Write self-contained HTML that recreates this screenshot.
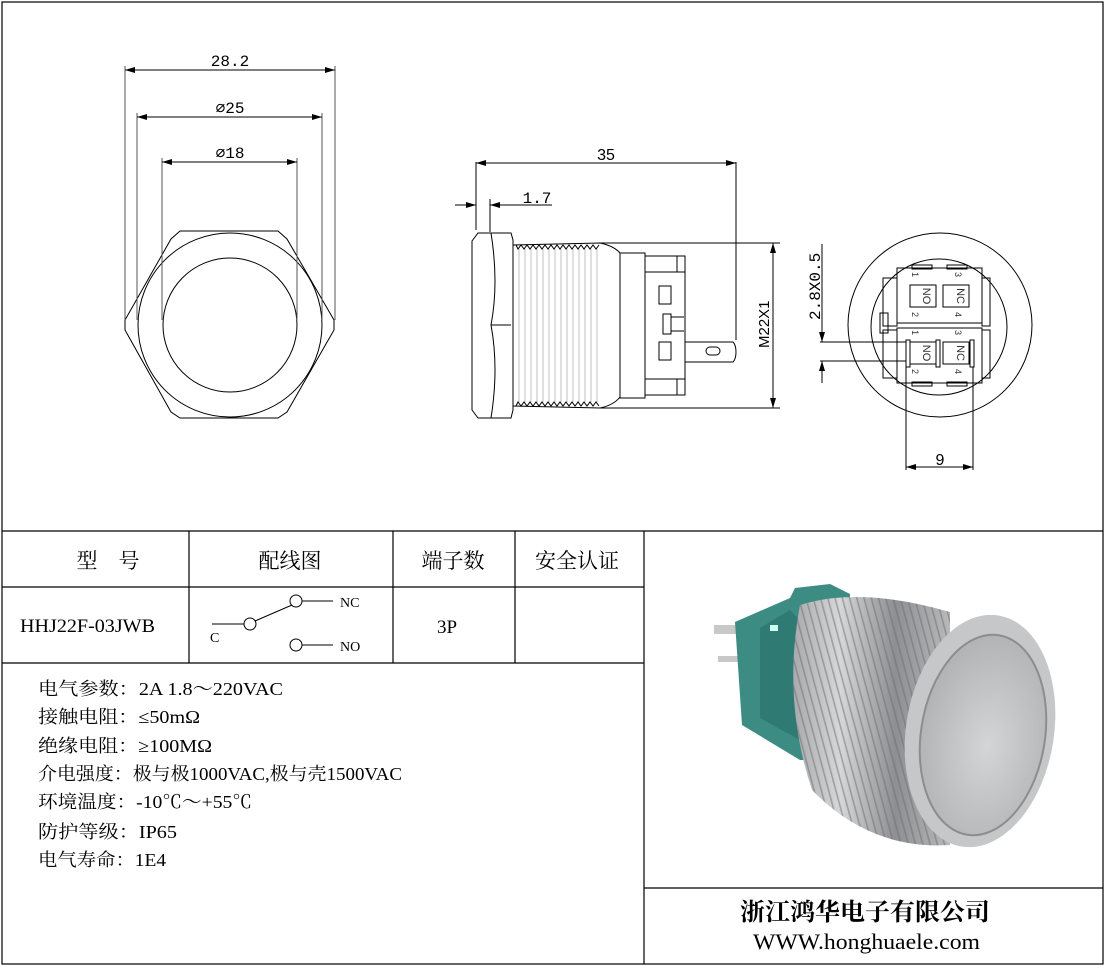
<!DOCTYPE html>
<html><head><meta charset="utf-8"><style>
body{margin:0;background:#fff;}
svg{display:block;font-family:"Liberation Mono","Noto Sans CJK SC",monospace;}
.cn{font-family:"Liberation Serif","Noto Serif CJK SC","Noto Sans CJK SC",serif;}
.ar{font-family:"Liberation Sans",sans-serif;}
</style></head><body>
<svg width="1105" height="966" viewBox="0 0 1105 966" xmlns="http://www.w3.org/2000/svg">
<defs>
<marker id="a" markerWidth="10" markerHeight="6" refX="10" refY="3" orient="auto-start-reverse" markerUnits="userSpaceOnUse"><path d="M0,0 L10,3 L0,6z" fill="#000"/></marker>
<linearGradient id="th" x1="0" y1="0" x2="1" y2="0"><stop offset="0" stop-color="#a9aaad"/><stop offset=".3" stop-color="#d6d7d8"/><stop offset=".65" stop-color="#8e8f92"/><stop offset="1" stop-color="#b8b9bb"/></linearGradient>
<radialGradient id="fc" cx=".55" cy=".55" r=".6"><stop offset="0" stop-color="#d4d5d6"/><stop offset="1" stop-color="#b0b1b3"/></radialGradient>
<pattern id="ths" width="7" height="7" patternUnits="userSpaceOnUse" patternTransform="rotate(-15)"><rect width="1.6" height="7" fill="#6d6e71" opacity=".5"/></pattern>
</defs>
<g fill="none" stroke="#000" stroke-width="1.2">
<rect x="2" y="2" width="1101" height="962"/>
<line x1="2" y1="531" x2="1103" y2="531"/>
<line x1="2" y1="587" x2="644" y2="587"/>
<line x1="2" y1="663" x2="644" y2="663"/>
<line x1="189" y1="531" x2="189" y2="663"/>
<line x1="393" y1="531" x2="393" y2="663"/>
<line x1="515" y1="531" x2="515" y2="663"/>
<line x1="644" y1="531" x2="644" y2="964"/>
<line x1="644" y1="888" x2="1103" y2="888"/>
</g>
<!-- front view -->
<g fill="none" stroke="#000" stroke-width="1">
<polygon points="125,320 171,239 180,231 278,231 287,239 334,320 334,330 287,412 278,418 180,418 171,412 125,330"/>
<circle cx="230" cy="325" r="92"/>
<circle cx="230" cy="325" r="67"/>
<g stroke="#555"><line x1="125" y1="66" x2="125" y2="320"/><line x1="335" y1="66" x2="335" y2="320"/>
<line x1="137" y1="113" x2="137" y2="320"/><line x1="322" y1="113" x2="322" y2="320"/>
<line x1="162" y1="158" x2="162" y2="320"/><line x1="297" y1="158" x2="297" y2="320"/></g>
<line x1="125" y1="70" x2="335" y2="70" marker-start="url(#a)" marker-end="url(#a)"/>
<line x1="137" y1="117" x2="322" y2="117" marker-start="url(#a)" marker-end="url(#a)"/>
<line x1="162" y1="162" x2="297" y2="162" marker-start="url(#a)" marker-end="url(#a)"/>
</g>
<g font-size="16" text-anchor="middle">
<text x="230" y="66">28.2</text><text x="230" y="113">⌀25</text><text x="230" y="158">⌀18</text>
</g>
<!-- side view -->
<g fill="none" stroke="#000" stroke-width="1">
<path d="M478,233 L511,233 L513,240 L513,410 L511,418 L478,418 L472,410 L472,241 Z"/>
<path d="M491,233 Q499,283 491,325 Q499,368 491,418"/>
<line x1="491" y1="325" x2="511" y2="325"/>
<path d="M513,245 L600,243 Q614,246 620,253 L620,397 Q614,405 600,408 L513,406"/>
<path d="M516,245 l2,4 l3,-4 l3,4 l3,-4 l3,4 l3,-4 l3,4 l3,-4 l3,4 l3,-4 l3,4 l3,-4 l3,4 l3,-4 l3,4 l3,-4 l3,4 l3,-4 l3,4 l3,-4 l3,4 l3,-4 l3,4 l3,-4 l3,4 l3,-4 l3,4 l3,-4"/>
<path d="M516,406 l2,-4 l3,4 l3,-4 l3,4 l3,-4 l3,4 l3,-4 l3,4 l3,-4 l3,4 l3,-4 l3,4 l3,-4 l3,4 l3,-4 l3,4 l3,-4 l3,4 l3,-4 l3,4 l3,-4 l3,4 l3,-4 l3,4 l3,-4 l3,4 l3,-4 l3,4"/>
<g stroke="#999" stroke-width=".6">
<path d="M519,249V402M525,249V402M531,249V402M537,249V402M543,249V402M549,249V402M555,249V402M561,249V402M567,249V402M573,249V402M579,249V402M585,249V402M591,249V402M597,249V402"/>
</g>
<rect x="620" y="253" width="25" height="145"/>
<rect x="645" y="256" width="40" height="139"/>
<line x1="645" y1="272" x2="685" y2="272"/><line x1="645" y1="379" x2="685" y2="379"/>
<rect x="677" y="256" width="8" height="16"/><rect x="677" y="379" width="8" height="16"/>
<rect x="659" y="286" width="12" height="18"/><rect x="663" y="314" width="8" height="20"/><line x1="671" y1="317" x2="684" y2="317"/><line x1="671" y1="331" x2="684" y2="331"/>
<rect x="659" y="342" width="12" height="18"/>
<path d="M685,342 H733 Q736,345 736,352 Q736,359 733,362 H685"/>
<rect x="706" y="347" width="14" height="8" rx="4"/>
<line x1="476" y1="162" x2="476" y2="230"/><line x1="736" y1="162" x2="736" y2="340"/>
<line x1="476" y1="163" x2="736" y2="163" marker-start="url(#a)" marker-end="url(#a)"/>
<line x1="455" y1="205" x2="476" y2="205" marker-end="url(#a)"/>
<line x1="512" y1="205" x2="490" y2="205" marker-end="url(#a)"/>
<line x1="490" y1="205" x2="552" y2="205"/>
<line x1="490" y1="199" x2="490" y2="232"/>
<line x1="600" y1="243" x2="780" y2="243"/><line x1="600" y1="408" x2="780" y2="408"/>
<line x1="773" y1="243" x2="773" y2="408" marker-start="url(#a)" marker-end="url(#a)"/>
</g>
<text x="606" y="160" font-size="16" text-anchor="middle" class="ar">35</text>
<text x="537" y="203" font-size="16" text-anchor="middle">1.7</text>
<text class="ar" font-size="15" transform="translate(769,348) rotate(-90)">M22X1</text>
<!-- rear view -->
<g fill="none" stroke="#000" stroke-width="1">
<circle cx="940" cy="325" r="92"/>
<circle cx="939" cy="327" r="68"/>
<rect x="897" y="268" width="85" height="55"/>
<rect x="897" y="328" width="85" height="55"/>
<rect x="883" y="278" width="14" height="48"/><rect x="982" y="278" width="8" height="48"/>
<rect x="883" y="330" width="14" height="48"/><rect x="982" y="330" width="8" height="48"/>
<rect x="880" y="313" width="8" height="20"/>
<rect x="912" y="265" width="20" height="4"/><rect x="947" y="265" width="20" height="4"/>
<rect x="912" y="382" width="20" height="4"/><rect x="947" y="382" width="20" height="4"/>
<rect x="910" y="285" width="26" height="22"/><rect x="943" y="285" width="26" height="22"/>
<rect x="910" y="342" width="26" height="22"/><rect x="943" y="342" width="26" height="22"/>
<rect x="906" y="340" width="4" height="27"/><rect x="936" y="340" width="4" height="27"/><rect x="970" y="340" width="4" height="27"/>
<line x1="820" y1="342" x2="906" y2="342"/><line x1="820" y1="361" x2="906" y2="361"/>
<line x1="822" y1="244" x2="822" y2="342" marker-end="url(#a)"/>
<line x1="822" y1="383" x2="822" y2="361" marker-end="url(#a)"/>
<line x1="906" y1="367" x2="906" y2="470"/><line x1="973" y1="367" x2="973" y2="470"/>
<line x1="906" y1="467" x2="973" y2="467" marker-start="url(#a)" marker-end="url(#a)"/>
</g>
<g font-size="11" class="ar" fill="#333">
<text transform="translate(923,296) rotate(90)" text-anchor="middle">NO</text>
<text transform="translate(957,296) rotate(90)" text-anchor="middle">NC</text>
<text transform="translate(923,353) rotate(90)" text-anchor="middle">NO</text>
<text transform="translate(957,353) rotate(90)" text-anchor="middle">NC</text>
<text transform="translate(912,272) rotate(90)" font-size="9">1</text>
<text transform="translate(955,272) rotate(90)" font-size="9">3</text>
<text transform="translate(912,312) rotate(90)" font-size="9">2</text>
<text transform="translate(955,312) rotate(90)" font-size="9">4</text>
<text transform="translate(912,330) rotate(90)" font-size="9">1</text>
<text transform="translate(955,330) rotate(90)" font-size="9">3</text>
<text transform="translate(912,369) rotate(90)" font-size="9">2</text>
<text transform="translate(955,369) rotate(90)" font-size="9">4</text>
</g>
<text transform="translate(820,320) rotate(-90)" font-size="16">2.8X0.5</text>
<text x="940" y="465" font-size="16" text-anchor="middle" class="ar">9</text>
<!-- table -->
<g class="cn" font-size="21" text-anchor="middle">
<text x="108" y="568">型　号</text><text x="290" y="568">配线图</text><text x="453" y="568">端子数</text><text x="577" y="568">安全认证</text>
</g>
<g class="cn" font-size="19">
<text x="20" y="632" textLength="135" lengthAdjust="spacingAndGlyphs">HHJ22F-03JWB</text>
<text x="437" y="633">3P</text>
</g>
<g fill="none" stroke="#000" stroke-width="1">
<line x1="212" y1="624" x2="244" y2="624"/><circle cx="250" cy="624" r="6"/>
<line x1="255" y1="621" x2="292" y2="605"/>
<circle cx="296" cy="601" r="6"/><line x1="302" y1="601" x2="333" y2="601"/>
<circle cx="296" cy="645" r="6"/><line x1="302" y1="645" x2="333" y2="645"/>
</g>
<g class="cn" font-size="14"><text x="340" y="607">NC</text><text x="340" y="651">NO</text><text x="210" y="642">C</text></g>
<g class="cn" font-size="18">
<text x="38" y="695" textLength="245" lengthAdjust="spacingAndGlyphs">电气参数：2A  1.8～220VAC</text>
<text x="38" y="723" textLength="162" lengthAdjust="spacingAndGlyphs">接触电阻：≤50mΩ</text>
<text x="38" y="752" textLength="174" lengthAdjust="spacingAndGlyphs">绝缘电阻：≥100MΩ</text>
<text x="38" y="780" textLength="364" lengthAdjust="spacingAndGlyphs">介电强度：极与极1000VAC,极与壳1500VAC</text>
<text x="38" y="808" textLength="214" lengthAdjust="spacingAndGlyphs">环境温度：-10℃～+55℃</text>
<text x="38" y="838" textLength="139" lengthAdjust="spacingAndGlyphs">防护等级：IP65</text>
<text x="38" y="866" textLength="128" lengthAdjust="spacingAndGlyphs">电气寿命：1E4</text>
</g>
<g class="cn">
<text x="740" y="920" font-size="24" font-weight="bold" textLength="250" lengthAdjust="spacingAndGlyphs">浙江鸿华电子有限公司</text>
<text x="753" y="949" font-size="22" textLength="227" lengthAdjust="spacingAndGlyphs">WWW.honghuaele.com</text>
</g>
<!-- photo -->
<g>
<rect x="714" y="625" width="28" height="9" fill="#c8c8c8"/><rect x="718" y="656" width="20" height="6" fill="#c8c8c8"/>
<polygon points="735,622 790,598 795,588 830,584 850,594 845,760 800,760 742,725" fill="#3d8c84"/>
<polygon points="760,628 790,610 800,620 800,740 760,718" fill="#2f7a72"/>
<rect x="770" y="625" width="8" height="6" fill="#cfe"/>
<path d="M800,605 Q860,586 950,612 L950,845 Q870,850 812,790 Q782,700 800,605Z" fill="url(#th)"/>
<path d="M800,605 Q860,586 950,612 L950,845 Q870,850 812,790 Q782,700 800,605Z" fill="url(#ths)"/>
<ellipse cx="980" cy="731" rx="74" ry="117" fill="#c6c7c9" transform="rotate(9 980 731)"/>
<ellipse cx="983" cy="735" rx="62" ry="101" fill="url(#fc)" stroke="#8c8d90" stroke-width="2" transform="rotate(9 983 735)"/>
</g>
</svg>
</body></html>
